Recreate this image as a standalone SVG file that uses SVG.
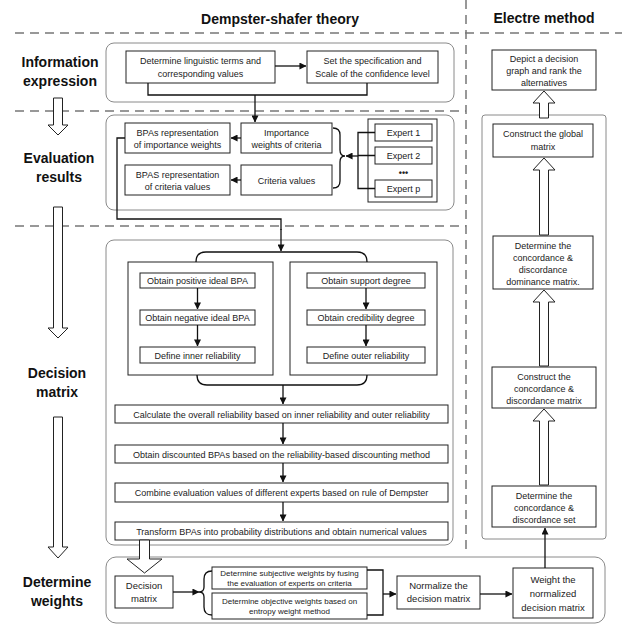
<svg xmlns="http://www.w3.org/2000/svg" width="622" height="626" viewBox="0 0 622 626">
<defs>
<marker id="ah" viewBox="0 0 8 8" refX="7.5" refY="4" markerWidth="7" markerHeight="7" markerUnits="userSpaceOnUse" orient="auto">
<path d="M0,0 L8,4 L0,8 Z" fill="#111"/>
</marker>
<style>
.bg{fill:#fff}
.cont{fill:#fff;stroke:#8a8a8a;stroke-width:1}
.box{fill:#fff;stroke:#222;stroke-width:1}
.dash{stroke:#777;stroke-width:1.5;stroke-dasharray:9,6;fill:none}
.t{font-family:"Liberation Sans",Arial,sans-serif;font-size:9px;fill:#222;text-anchor:middle}
.ts{font-family:"Liberation Sans",Arial,sans-serif;font-size:8px;fill:#222;text-anchor:middle}
.tm{font-family:"Liberation Sans",Arial,sans-serif;font-size:9.5px;fill:#222;text-anchor:middle}
.h{font-family:"Liberation Sans",Arial,sans-serif;font-size:14px;font-weight:bold;fill:#111;text-anchor:middle}
.ln{fill:none;stroke:#111;stroke-width:1.3}
.arr{fill:none;stroke:#111;stroke-width:1.3;marker-end:url(#ah)}
.hol{fill:#fff;stroke:#222;stroke-width:1}
</style>
</defs>
<rect class="bg" x="0" y="0" width="622" height="626"/>

<g id="dividers">
<line class="dash" x1="15" y1="33" x2="622" y2="33"/>
<line class="dash" x1="15" y1="111" x2="466" y2="111"/>
<line class="dash" x1="15" y1="226" x2="466" y2="226"/>
<line class="dash" x1="466" y1="0" x2="466" y2="550"/>
</g>

<g id="headers">
<text class="h" x="280" y="24">Dempster-shafer theory</text>
<text class="h" x="544" y="23">Electre method</text>
</g>

<g id="stage-labels">
<text class="h" x="60" y="67">Information</text>
<text class="h" x="60" y="86">expression</text>
<text class="h" x="59" y="163">Evaluation</text>
<text class="h" x="59" y="182">results</text>
<text class="h" x="57" y="378">Decision</text>
<text class="h" x="57" y="397">matrix</text>
<text class="h" x="57" y="587">Determine</text>
<text class="h" x="57" y="606">weights</text>
</g>

<g id="stage-arrows">
<path class="hol" d="M53.5,98 V125 H48 L58,135 L68,125 H62.5 V98 Z"/>
<path class="hol" d="M53.5,207 V328 H48 L58,338 L68,328 H62.5 V207 Z"/>
<path class="hol" d="M53.5,417 V547 H48 L58,558 L68,547 H62.5 V417 Z"/>
</g>

<g id="containers">
<rect class="cont" x="106" y="43" width="348" height="59" rx="8"/>
<rect class="cont" x="106" y="115" width="348" height="95" rx="8"/>
<rect class="cont" x="106" y="240" width="347" height="305" rx="8"/>
<rect class="cont" x="106" y="557" width="499" height="66" rx="10"/>
<rect class="cont" x="482" y="115" width="124" height="424" rx="3"/>
</g>

<g id="n-linguistic">
<rect class="box" x="126" y="51" width="149" height="32"/>
<text class="t" x="200.5" y="64">Determine linguistic terms  and</text>
<text class="t" x="200.5" y="77">corresponding values</text>
</g>
<g id="n-specification">
<rect class="box" x="307" y="51" width="131" height="32"/>
<text class="t" x="372.5" y="64">Set the specification and</text>
<text class="t" x="372.5" y="77">Scale of the confidence level</text>
</g>

<g id="n-bpa-importance">
<rect class="box" x="125" y="123" width="105" height="30"/>
<text class="t" x="177.5" y="136">BPAs representation</text>
<text class="t" x="177.5" y="148">of importance weights</text>
</g>
<g id="n-importance">
<rect class="box" x="241" y="123" width="91" height="30"/>
<text class="t" x="286.5" y="136">Importance</text>
<text class="t" x="286.5" y="148">weights of criteria</text>
</g>
<g id="n-bpa-criteria">
<rect class="box" x="125" y="165" width="105" height="30"/>
<text class="t" x="177.5" y="178">BPAS representation</text>
<text class="t" x="177.5" y="190">of criteria values</text>
</g>
<g id="n-criteria">
<rect class="box" x="241" y="165" width="91" height="30"/>
<text class="t" x="286.5" y="184">Criteria values</text>
</g>
<g id="n-experts">
<rect class="box" x="368" y="119" width="69" height="83" stroke-width="1.5"/>
<rect class="box" x="375" y="124" width="57" height="17"/>
<text class="t" x="403.5" y="136">Expert 1</text>
<rect class="box" x="375" y="147" width="57" height="17"/>
<text class="t" x="403.5" y="159">Expert 2</text>
<text class="t" x="403.5" y="176" font-weight="bold">•••</text>
<rect class="box" x="375" y="180" width="57" height="17"/>
<text class="t" x="403.5" y="192">Expert p</text>
</g>

<g id="n-inner-group">
<rect class="box" x="128" y="262" width="145" height="113"/>
</g>
<g id="n-outer-group">
<rect class="box" x="290" y="262" width="147" height="113"/>
</g>
<g id="n-pos-ideal">
<rect class="box" x="140" y="273" width="115" height="15"/>
<text class="t" x="197.5" y="284">Obtain positive ideal BPA</text>
</g>
<g id="n-neg-ideal">
<rect class="box" x="140" y="310" width="115" height="15"/>
<text class="t" x="197.5" y="321">Obtain negative ideal BPA</text>
</g>
<g id="n-inner-rel">
<rect class="box" x="140" y="347" width="115" height="16"/>
<text class="t" x="197.5" y="358.5">Define inner reliability</text>
</g>
<g id="n-support">
<rect class="box" x="307" y="273" width="118" height="15"/>
<text class="t" x="366" y="284">Obtain support degree</text>
</g>
<g id="n-credibility">
<rect class="box" x="307" y="310" width="118" height="15"/>
<text class="t" x="366" y="321">Obtain credibility degree</text>
</g>
<g id="n-outer-rel">
<rect class="box" x="307" y="347" width="118" height="16"/>
<text class="t" x="366" y="358.5">Define outer reliability</text>
</g>

<g id="n-overall">
<rect class="box" x="115" y="405" width="333" height="18"/>
<text class="t" x="281.5" y="417.5">Calculate the overall reliability based on inner reliability and outer reliability</text>
</g>
<g id="n-discounted">
<rect class="box" x="115" y="445" width="333" height="18"/>
<text class="t" x="281.5" y="457.5">Obtain discounted BPAs  based on the reliability-based discounting method</text>
</g>
<g id="n-combine">
<rect class="box" x="115" y="483" width="333" height="19"/>
<text class="t" x="281.5" y="496">Combine evaluation values of different experts based on rule of Dempster</text>
</g>
<g id="n-transform">
<rect class="box" x="115" y="522" width="333" height="18"/>
<text class="t" x="281.5" y="534.5">Transform BPAs into probability distributions and obtain numerical values</text>
</g>

<g id="n-decision-matrix">
<rect class="box" x="115" y="576" width="58" height="32"/>
<text class="tm" x="144" y="589">Decision</text>
<text class="tm" x="144" y="602">matrix</text>
</g>
<g id="n-subjective">
<rect class="box" x="212" y="567" width="155" height="22"/>
<text class="ts" x="289.5" y="576">Determine subjective weights by fusing</text>
<text class="ts" x="289.5" y="586">the evaluation of experts on criteria</text>
</g>
<g id="n-objective">
<rect class="box" x="212" y="593" width="155" height="26"/>
<text class="ts" x="289.5" y="604">Determine objective weights based on</text>
<text class="ts" x="289.5" y="614">entropy weight method</text>
</g>
<g id="n-normalize">
<rect class="box" x="397" y="576" width="83" height="33"/>
<text class="tm" x="438.5" y="589">Normalize the</text>
<text class="tm" x="438.5" y="602">decision matrix</text>
</g>
<g id="n-weight">
<rect class="box" x="513" y="568" width="80" height="50"/>
<text class="tm" x="553" y="583">Weight the</text>
<text class="tm" x="553" y="597">normalized</text>
<text class="tm" x="553" y="611">decision matrix</text>
</g>

<g id="n-depict">
<rect class="box" x="492" y="50" width="104" height="40"/>
<text class="t" x="544" y="62">Depict a decision</text>
<text class="t" x="544" y="74">graph and rank the</text>
<text class="t" x="544" y="86">alternatives</text>
</g>
<g id="n-global">
<rect class="box" x="493" y="124" width="100" height="33"/>
<text class="t" x="543" y="137">Construct the global</text>
<text class="t" x="543" y="150">matrix</text>
</g>
<g id="n-dominance">
<rect class="box" x="493" y="236" width="100" height="53"/>
<text class="t" x="543" y="249">Determine the</text>
<text class="t" x="543" y="261">concordance &amp;</text>
<text class="t" x="543" y="273">discordance</text>
<text class="t" x="543" y="285">dominance matrix.</text>
</g>
<g id="n-conc-matrix">
<rect class="box" x="492" y="367" width="104" height="41"/>
<text class="t" x="544" y="380">Construct the</text>
<text class="t" x="544" y="392">concordance &amp;</text>
<text class="t" x="544" y="404">discordance matrix</text>
</g>
<g id="n-conc-set">
<rect class="box" x="492" y="486" width="104" height="41"/>
<text class="t" x="544" y="499">Determine the</text>
<text class="t" x="544" y="511">concordance &amp;</text>
<text class="t" x="544" y="523">discordance set</text>
</g>

<g id="connectors">
<line class="arr" x1="275" y1="66" x2="306" y2="66"/>
<path class="ln" d="M148,83 V95 H367 V83"/>
<path class="arr" d="M255,95 V122"/>
<line class="arr" x1="241" y1="138" x2="231" y2="138"/>
<line class="arr" x1="241" y1="180" x2="231" y2="180"/>
<path class="ln" d="M333,128 Q340,128 340,135 V150 Q340,156 345,156 Q340,156 340,162 V181 Q340,188 333,188"/>
<path class="ln" d="M375,132.5 H358 V188.5 H375 M358,155.5 H375"/>
<line class="arr" x1="358" y1="156" x2="346" y2="156"/>
<path class="ln" d="M125,138 H117 V219 H281 V230"/>
<line class="arr" x1="281" y1="229" x2="281" y2="251"/>
<path class="ln" d="M196,262 Q196,252 206,252 H357 Q367,252 367,262"/>
<line class="arr" x1="197.5" y1="288" x2="197.5" y2="309"/>
<line class="arr" x1="197.5" y1="325" x2="197.5" y2="346"/>
<line class="arr" x1="366" y1="288" x2="366" y2="309"/>
<line class="arr" x1="366" y1="325" x2="366" y2="346"/>
<path class="ln" d="M197,375 Q197,385 207,385 H357 Q367,385 367,375"/>
<line class="arr" x1="283" y1="385" x2="283" y2="404"/>
<line class="arr" x1="283" y1="423" x2="283" y2="444"/>
<line class="arr" x1="283" y1="463" x2="283" y2="482"/>
<line class="arr" x1="283" y1="502" x2="283" y2="521"/>
<path class="hol" d="M139.5,540 V559 H127 L144.5,573 L162,559 H149.5 V540 Z"/>
<line class="arr" x1="173" y1="592" x2="199" y2="592"/>
<path class="ln" d="M212,571 Q204,571 204,579 V587 Q204,592 199,592 Q204,592 204,597 V607 Q204,615 212,615"/>
<path class="ln" d="M367,570 H383 V615 H367"/>
<line class="arr" x1="383" y1="594" x2="396" y2="594"/>
<line class="arr" x1="480" y1="594" x2="512" y2="594"/>
<line class="arr" x1="545" y1="568" x2="545" y2="528"/>
<path class="hol" d="M539.5,118 V103 H533 L544,91 L555,103 H548.5 V118 Z"/>
<path class="hol" d="M539.5,235 V170 H533 L544,158 L555,170 H548.5 V235 Z"/>
<path class="hol" d="M539.5,366 V302 H533 L544,290 L555,302 H548.5 V366 Z"/>
<path class="hol" d="M539.5,485 V421 H533 L544,409 L555,421 H548.5 V485 Z"/>
</g>
</svg>
